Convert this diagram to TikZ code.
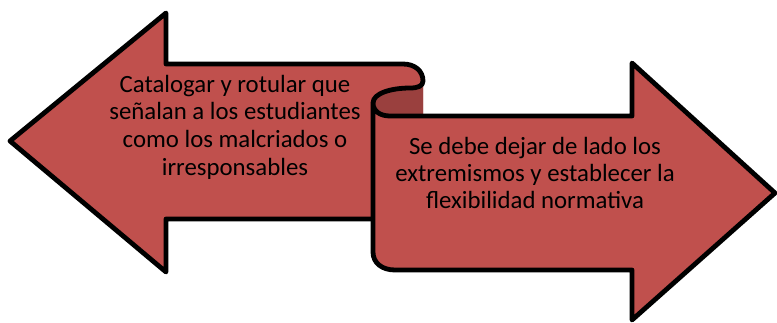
\documentclass[tikz,border=0pt]{standalone}
\usepackage{fontspec}
\setmainfont{Carlito}
\definecolor{ribbonred}{RGB}{192,80,77}
\definecolor{folddark}{RGB}{154,64,62}
\begin{document}
\begin{tikzpicture}[x=0.5pt, y=-0.5pt,
    outline/.style={line width=2.4pt, line join=round},
    label/.style={font=\fontsize{12.4}{13.3}\selectfont, align=center}]
        \useasboundingbox (0, 0) rectangle (777, 322);

        % back panel, pointing left
        \fill[ribbonred] (373, 219) -- (166, 219) -- (166, 272) -- (10, 141) -- (166, 13) -- (166, 64)
          -- (403, 64) .. controls (415, 64) and (423, 71) .. (423, 81) -- (423, 116) -- (373, 116) -- cycle;
        % fold
        \fill[folddark] (373, 103) .. controls (373, 93) and (392, 88) .. (410, 88)
          .. controls (418, 88) and (423, 86) .. (423, 81) -- (423, 116) -- (390, 116)
          .. controls (380, 116) and (373, 111) .. (373, 103) -- cycle;
        \draw[outline] (373, 219) -- (166, 219) -- (166, 272) -- (10, 141) -- (166, 13) -- (166, 64)
          -- (403, 64) .. controls (415, 64) and (423, 71) .. (423, 81)
          .. controls (423, 86) and (418, 88) .. (410, 88)
          .. controls (392, 88) and (373, 93) .. (373, 103);

        % front panel, pointing right
        \filldraw[outline, fill=ribbonred] (373, 103) .. controls (373, 111) and (380, 116) .. (390, 116)
          -- (632, 116) -- (632, 63) -- (775, 193) -- (632, 320) -- (632, 270) -- (395, 270)
          .. controls (382, 270) and (373, 263) .. (373, 252) -- cycle;

        \node[label, font=\fontsize{12.4}{13.8}\selectfont] (left) at (235, 127) {Catalogar y rotular que\\se\~nalan a los estudiantes\\como los malcriados o\\irresponsables};
        \node[label] (right) at (535, 173) {Se debe dejar de lado los\\extremismos y establecer la\\flexibilidad normativa};
      \end{tikzpicture}
\end{document}
